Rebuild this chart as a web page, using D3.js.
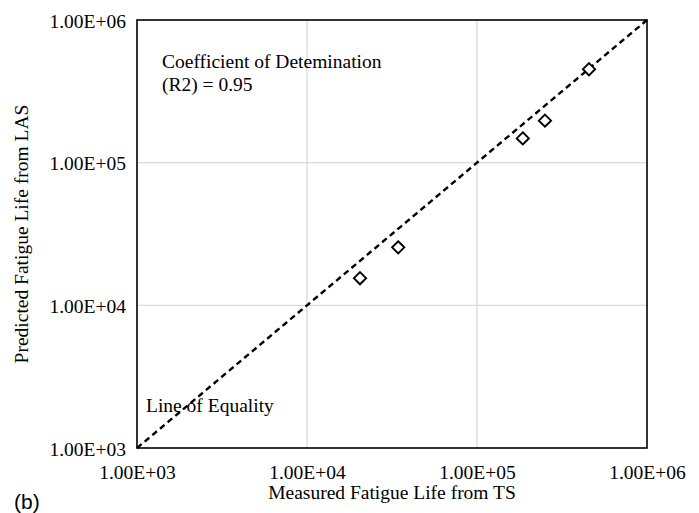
<!DOCTYPE html>
<html><head><meta charset="utf-8">
<script src="https://cdn.jsdelivr.net/npm/d3@7"></script>
<style>body{margin:0;background:#fff}svg{display:block}</style>
</head><body>
<script>
const measured = [20500, 34400, 186000, 251000, 456000];
const predicted = [15500, 25500, 148000, 197000, 452000];
const tickValues = [1e3, 1e4, 1e5, 1e6];
const tickLabels = ["1.00E+03", "1.00E+04", "1.00E+05", "1.00E+06"];
const equalityLine = [1e3, 1e6];
const xTitle = "Measured Fatigue Life from TS";
const yTitle = "Predicted Fatigue Life from LAS";
const annotation = ["Coefficient of Detemination", "(R2) = 0.95"];

const W = 699, H = 513;
const m = {l:137, r:52, t:20, b:65};
const svg = d3.select("body").append("svg").attr("width", W).attr("height", H);
const x = d3.scaleLog().domain([1e3, 1e6]).range([m.l, W - m.r]);
const y = d3.scaleLog().domain([1e3, 1e6]).range([H - m.b, m.t]);
const serif = "'Liberation Serif','Times New Roman',serif";
const fs = 19.5;

// gridlines
svg.append("g").selectAll("line.gx").data(tickValues.slice(1, -1)).join("line")
  .attr("x1", d => x(d)).attr("x2", d => x(d)).attr("y1", y(1e3)).attr("y2", y(1e6))
  .attr("stroke", "#d9d9d9").attr("stroke-width", 1.3);
svg.append("g").selectAll("line.gy").data(tickValues.slice(1, -1)).join("line")
  .attr("y1", d => y(d)).attr("y2", d => y(d)).attr("x1", x(1e3)).attr("x2", x(1e6))
  .attr("stroke", "#d9d9d9").attr("stroke-width", 1.3);

// axes (labels via d3 axes)
const fmt = d => tickLabels[tickValues.indexOf(d)];
const xAx = svg.append("g").attr("transform", `translate(0,${y(1e3)})`)
  .call(d3.axisBottom(x).tickValues(tickValues).tickFormat(fmt).tickSize(0).tickPadding(17));
const yAx = svg.append("g").attr("transform", `translate(${x(1e3)},0)`)
  .call(d3.axisLeft(y).tickValues(tickValues).tickFormat(fmt).tickSize(0).tickPadding(11));
[xAx, yAx].forEach(g => {
  g.select(".domain").remove();
  g.selectAll("text").attr("font-family", serif).attr("font-size", fs).attr("fill", "#000");
});
yAx.selectAll("text").attr("dy", "0.36em");

// frame
svg.append("rect").attr("x", x(1e3)).attr("y", y(1e6))
  .attr("width", x(1e6) - x(1e3)).attr("height", y(1e3) - y(1e6))
  .attr("fill", "none").attr("stroke", "#000").attr("stroke-width", 1.6);

// line of equality
svg.append("line").attr("x1", x(equalityLine[0])).attr("y1", y(equalityLine[0]))
  .attr("x2", x(equalityLine[1])).attr("y2", y(equalityLine[1]))
  .attr("stroke", "#000").attr("stroke-width", 2.4).attr("stroke-dasharray", "6,4");

// points
const sym = d3.symbol().type(d3.symbolDiamond2).size(95);
svg.append("g").selectAll("path").data(measured.map((d, i) => [d, predicted[i]])).join("path")
  .attr("d", sym).attr("transform", d => `translate(${x(d[0])},${y(d[1])})`)
  .attr("fill", "#fff").attr("stroke", "#000").attr("stroke-width", 1.9);

// annotation
svg.append("text").attr("x", 162).attr("y", 68).attr("font-family", serif).attr("font-size", fs).text(annotation[0]);
svg.append("text").attr("x", 162).attr("y", 91).attr("font-family", serif).attr("font-size", fs).text(annotation[1]);
svg.append("text").attr("x", 146).attr("y", 412).attr("font-family", serif).attr("font-size", fs).text("Line of Equality");

// axis titles
svg.append("text").attr("x", (x(1e3) + x(1e6)) / 2).attr("y", 499).attr("text-anchor", "middle")
  .attr("font-family", serif).attr("font-size", fs).text(xTitle);
svg.append("text").attr("transform", `translate(28,${(y(1e3) + y(1e6)) / 2}) rotate(-90)`)
  .attr("text-anchor", "middle").attr("font-family", serif).attr("font-size", fs).text(yTitle);

// panel label
svg.append("text").attr("x", 14).attr("y", 509).attr("font-family", "'Liberation Sans',Arial,sans-serif")
  .attr("font-size", 21).text("(b)");
</script>
</body></html>
